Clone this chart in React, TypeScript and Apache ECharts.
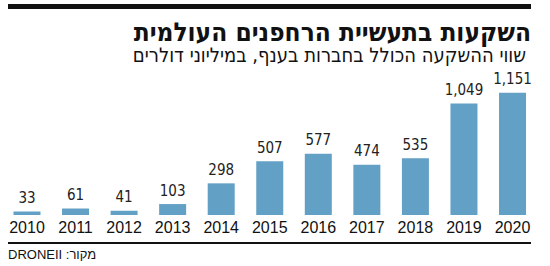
import React, { useEffect, useRef } from "react";
import * as echarts from "echarts";

const years = ["2010", "2011", "2012", "2013", "2014", "2015", "2016", "2017", "2018", "2019", "2020"];
const investments = [33, 61, 41, 103, 298, 507, 577, 474, 535, 1049, 1151];
const titleText = "השקעות בתעשיית הרחפנים העולמית";
const subtitleText = "שווי ההשקעה הכולל בחברות בענף, במיליוני דולרים";
const sourceText = "\u202Bמקור: DRONEII\u202C";

export default function App() {
  const ref = useRef<HTMLDivElement>(null);
  useEffect(() => {
    if (!ref.current) return;
    const chart = echarts.init(ref.current, null, { renderer: "svg" });
    chart.setOption({
      animation: false,
      backgroundColor: "#ffffff",
      grid: { left: 2.7, right: 13.2, top: 87.5, bottom: 51, containLabel: false },
      xAxis: {
        type: "category",
        data: years,
        axisLine: { show: false },
        axisTick: { show: false },
        axisLabel: {
          color: "#111111",
          fontFamily: "'Liberation Sans', Arial, sans-serif",
          fontSize: 16,
          margin: 4,
        },
      },
      yAxis: { type: "value", min: 0, max: 1200, show: false, splitLine: { show: false } },
      series: [
        {
          type: "bar",
          data: investments,
          barWidth: 27,
          itemStyle: { color: "#63a0c5" },
          label: {
            show: true,
            position: "top",
            distance: 6,
            color: "#222222",
            fontFamily: "'DejaVu Sans Condensed', sans-serif",
            fontSize: 15,
            formatter: (p: any) => p.value.toLocaleString("en-US"),
          },
        },
      ],
      graphic: [
        { type: "rect", shape: { x: 8, y: 4, width: 523, height: 5 }, style: { fill: "#111111" } },
        {
          type: "text",
          x: 531,
          y: 32,
          style: {
            text: titleText,
            align: "right",
            verticalAlign: "middle",
            lineHeight: 22,
            font: "bold 26px 'DejaVu Sans Condensed', 'DejaVu Sans', sans-serif",
            fill: "#111111",
          },
        },
        {
          type: "text",
          x: 526,
          y: 55,
          style: {
            text: subtitleText,
            align: "right",
            verticalAlign: "middle",
            lineHeight: 18,
            font: "20px 'DejaVu Sans Condensed', 'DejaVu Sans', sans-serif",
            fill: "#111111",
          },
        },
        { type: "rect", shape: { x: 8, y: 242, width: 523, height: 2 }, style: { fill: "#111111" } },
        {
          type: "text",
          x: 8,
          y: 254,
          style: {
            text: sourceText,
            align: "left",
            verticalAlign: "middle",
            font: "13px 'Liberation Sans', Arial, sans-serif",
            fill: "#111111",
          },
        },
      ],
    });
    return () => chart.dispose();
  }, []);
  return (
    <div
      ref={ref}
      style={{ position: "fixed", left: 0, top: 0, width: 550, height: 266 }}
    />
  );
}
